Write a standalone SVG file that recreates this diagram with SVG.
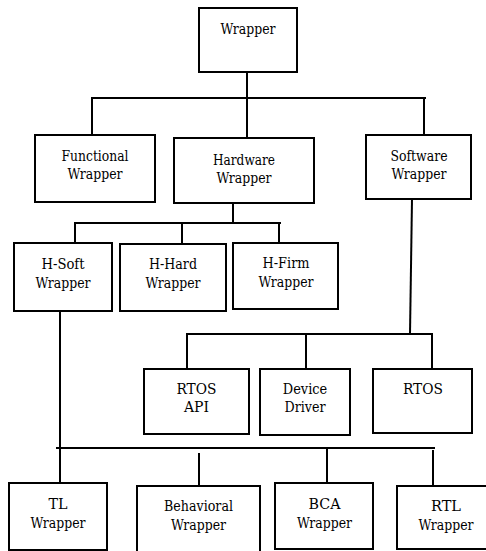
<svg xmlns="http://www.w3.org/2000/svg" width="486" height="551" viewBox="0 0 486 551">
  <style>
    .box { fill: #ffffff; stroke: #000000; stroke-width: 2; }
    .lbl { font-family: 'DejaVu Serif', serif; font-size: 14.5px; fill: #000000; text-anchor: middle; }
    #connectors line { stroke: #000000; stroke-width: 2; stroke-linecap: square; }
  </style>
  <rect width="486" height="551" fill="#ffffff"/>

  <g id="connectors">
    <!-- root to first level -->
    <line x1="247" y1="72" x2="247" y2="98"/>
    <line x1="92" y1="98" x2="425" y2="98"/>
    <line x1="92" y1="98" x2="92" y2="135"/>
    <line x1="247" y1="98" x2="247" y2="138"/>
    <line x1="424" y1="98" x2="424" y2="135"/>
    <!-- hardware wrapper branches -->
    <line x1="233" y1="203" x2="233" y2="223"/>
    <line x1="75" y1="223" x2="280" y2="223"/>
    <line x1="75" y1="223" x2="75" y2="243"/>
    <line x1="182" y1="223" x2="182" y2="244"/>
    <line x1="279" y1="223" x2="279" y2="243"/>
    <!-- software wrapper branches -->
    <line x1="412" y1="199" x2="410" y2="334"/>
    <line x1="187" y1="334" x2="432" y2="334"/>
    <line x1="187" y1="334" x2="187" y2="369"/>
    <line x1="306" y1="334" x2="306" y2="369"/>
    <line x1="432" y1="334" x2="432" y2="369"/>
    <!-- H-Soft wrapper branches -->
    <line x1="60" y1="311" x2="60" y2="483"/>
    <line x1="57" y1="448" x2="434" y2="448"/>
    <line x1="199" y1="454" x2="199" y2="486"/>
    <line x1="327" y1="448" x2="327" y2="483"/>
    <line x1="433" y1="451" x2="433" y2="486"/>
  </g>

  <g id="wrapper">
    <rect class="box" x="199" y="8" width="98" height="64"/>
    <text class="lbl" x="248" y="33.5" textLength="55" lengthAdjust="spacingAndGlyphs">Wrapper</text>
  </g>
  <g id="functional-wrapper">
    <rect class="box" x="35" y="135" width="120" height="67"/>
    <text class="lbl" x="95" y="161" textLength="67" lengthAdjust="spacingAndGlyphs">Functional</text>
    <text class="lbl" x="95" y="179" textLength="55" lengthAdjust="spacingAndGlyphs">Wrapper</text>
  </g>
  <g id="hardware-wrapper">
    <rect class="box" x="174" y="138" width="140" height="65"/>
    <text class="lbl" x="244" y="165" textLength="62" lengthAdjust="spacingAndGlyphs">Hardware</text>
    <text class="lbl" x="244" y="183" textLength="55" lengthAdjust="spacingAndGlyphs">Wrapper</text>
  </g>
  <g id="software-wrapper">
    <rect class="box" x="366" y="135" width="105" height="64"/>
    <text class="lbl" x="419" y="161" textLength="57" lengthAdjust="spacingAndGlyphs">Software</text>
    <text class="lbl" x="419" y="179" textLength="55" lengthAdjust="spacingAndGlyphs">Wrapper</text>
  </g>

  <g id="h-soft-wrapper">
    <rect class="box" x="14" y="243" width="98" height="68"/>
    <text class="lbl" x="63" y="268.5" textLength="43" lengthAdjust="spacingAndGlyphs">H-Soft</text>
    <text class="lbl" x="63" y="287.5" textLength="55" lengthAdjust="spacingAndGlyphs">Wrapper</text>
  </g>
  <g id="h-hard-wrapper">
    <rect class="box" x="120" y="244" width="106" height="67"/>
    <text class="lbl" x="173" y="268.5" textLength="48" lengthAdjust="spacingAndGlyphs">H-Hard</text>
    <text class="lbl" x="173" y="287.5" textLength="55" lengthAdjust="spacingAndGlyphs">Wrapper</text>
  </g>
  <g id="h-firm-wrapper">
    <rect class="box" x="233" y="243" width="105" height="66"/>
    <text class="lbl" x="286" y="267.5" textLength="47" lengthAdjust="spacingAndGlyphs">H-Firm</text>
    <text class="lbl" x="286" y="286.5" textLength="55" lengthAdjust="spacingAndGlyphs">Wrapper</text>
  </g>

  <g id="rtos-api">
    <rect class="box" x="144" y="369" width="105" height="65"/>
    <text class="lbl" x="196.5" y="393.5" textLength="40" lengthAdjust="spacingAndGlyphs">RTOS</text>
    <text class="lbl" x="196.5" y="411.5" textLength="25" lengthAdjust="spacingAndGlyphs">API</text>
  </g>
  <g id="device-driver">
    <rect class="box" x="260" y="369" width="90" height="66"/>
    <text class="lbl" x="305" y="393.5" textLength="44.5" lengthAdjust="spacingAndGlyphs">Device</text>
    <text class="lbl" x="305" y="411.5" textLength="41" lengthAdjust="spacingAndGlyphs">Driver</text>
  </g>
  <g id="rtos">
    <rect class="box" x="373" y="369" width="99" height="64"/>
    <text class="lbl" x="423" y="393.5" textLength="40" lengthAdjust="spacingAndGlyphs">RTOS</text>
  </g>

  <g id="tl-wrapper">
    <rect class="box" x="9" y="483" width="98" height="67"/>
    <text class="lbl" x="58" y="508.5" textLength="19" lengthAdjust="spacingAndGlyphs">TL</text>
    <text class="lbl" x="58" y="527.5" textLength="55" lengthAdjust="spacingAndGlyphs">Wrapper</text>
  </g>
  <g id="behavioral-wrapper">
    <rect class="box" x="137" y="486" width="123" height="80"/>
    <text class="lbl" x="198.5" y="510.5" textLength="69" lengthAdjust="spacingAndGlyphs">Behavioral</text>
    <text class="lbl" x="198.5" y="529.5" textLength="55" lengthAdjust="spacingAndGlyphs">Wrapper</text>
  </g>
  <g id="bca-wrapper">
    <rect class="box" x="275" y="483" width="98" height="66"/>
    <text class="lbl" x="324.5" y="508.5" textLength="32" lengthAdjust="spacingAndGlyphs">BCA</text>
    <text class="lbl" x="324.5" y="527.5" textLength="55" lengthAdjust="spacingAndGlyphs">Wrapper</text>
  </g>
  <g id="rtl-wrapper">
    <rect class="box" x="397" y="486" width="98" height="63"/>
    <text class="lbl" x="446" y="510.5" textLength="30" lengthAdjust="spacingAndGlyphs">RTL</text>
    <text class="lbl" x="446" y="529.5" textLength="55" lengthAdjust="spacingAndGlyphs">Wrapper</text>
  </g>
</svg>
